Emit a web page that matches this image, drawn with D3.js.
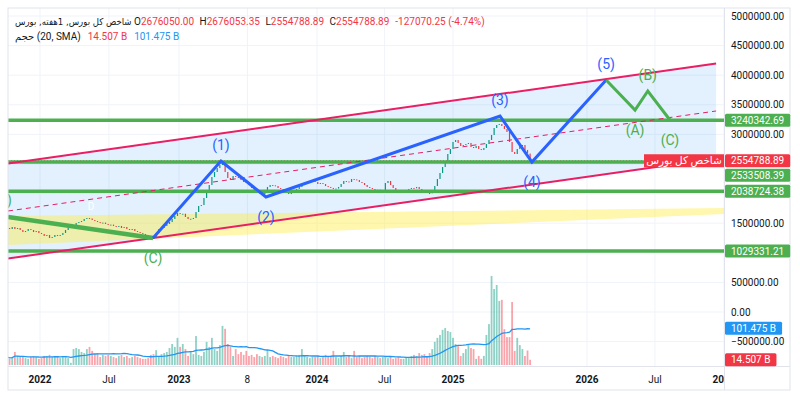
<!DOCTYPE html>
<html>
<head>
<meta charset="utf-8">
<script src="https://cdn.jsdelivr.net/npm/d3@7"></script>
<style>
  body { margin: 0; background: #fff; }
  svg { display: block; font-family: Roboto, "DejaVu Sans", sans-serif; }
</style>
</head>
<body>
<svg id="chart" width="800" height="397"></svg>
<script>
// Weekly bars: first week, closes (thousands of points), volume (billions)
const firstWeek = "2021-10-06";
const closeK = [
  1419,1402,1436,1402,1419,1385,1351,1368,1402,1385,
  1351,1368,1335,1318,1284,1301,1250,1267,1301,1284,
  1301,1335,1385,1419,1453,1470,1503,1520,1537,1571,
  1588,1580,1554,1537,1520,1503,1510,1487,1470,1476,
  1453,1436,1453,1419,1436,1402,1385,1402,1368,1351,
  1335,1318,1301,1284,1267,1262,1335,1402,1419,1453,
  1487,1520,1571,1622,1672,1655,1660,1605,1571,1575,
  1588,1689,1791,1807,1926,2061,2145,2280,2365,2432,
  2483,2534,2365,2264,2230,2297,2280,2264,2230,2196,
  2179,2145,2095,2044,2010,2015,1993,2044,2112,2145,
  2140,2128,2095,2078,2044,2010,1993,2010,2044,2078,
  2112,2145,2162,2179,2196,2213,2196,2162,2179,2162,
  2128,2112,2095,2078,2085,2112,2162,2213,2205,2196,
  2247,2240,2230,2196,2179,2145,2112,2095,2078,2061,
  2065,2044,2050,2179,2213,2145,2095,2044,2027,2010,
  2044,2061,2078,2095,2090,2112,2078,2061,2027,2010,
  2005,2044,2128,2247,2348,2449,2551,2669,2753,2872,
  2905,2855,2804,2821,2838,2855,2787,2770,2804,2753,
  2737,2770,2838,2905,2990,3108,3159,3176,3142,3091,
  3041,2872,2703,2669,2753,2804,2821,2737,2681.859,2554.789
];
const volumeB = [
  22,17,22,36,25,22,22,19,17,22,
  25,22,17,19,25,25,28,22,25,25,
  19,22,25,19,6,44,47,44,36,33,
  44,50,39,30,33,22,28,25,28,25,
  22,19,25,28,22,25,19,22,25,22,
  19,17,17,19,28,30,41,25,30,33,
  36,47,58,50,75,50,58,44,25,36,
  30,80,28,25,36,64,50,75,44,39,
  55,108,100,58,50,25,44,30,36,28,
  39,25,28,22,30,25,22,25,41,22,
  25,22,19,25,22,19,25,22,22,25,
  28,44,25,22,19,22,22,25,19,22,
  28,22,25,39,22,19,25,36,22,25,
  19,39,22,25,19,22,25,22,19,25,
  22,19,22,25,19,22,17,19,22,17,
  17,22,19,25,28,25,33,28,30,25,
  33,44,64,75,83,97,102,94,91,75,
  58,52,25,33,44,55,47,44,17,25,
  17,25,83,113,246,210,221,177,180,99,
  77,77,174,39,75,55,44,25,40,14.507
];
const lastBar = { open: 2676050.00, high: 2676053.35, low: 2554788.89, close: 2554788.89, change: -127070.25, pct: -4.74 };
const volumeNow = 14.507, volumeSma = 101.475;

const symbolText = "شاخص کل بورس, 1هفته, بورس";
const volumeText = "حجم (20, SMA)";
const priceTag = "شاخص کل بورس";

const levels = [3240342.69, 2533508.39, 2038724.38, 1029331.21];
const priceTicks = [5000000, 4500000, 4000000, 3500000, 3000000, 2500000, 2000000, 1500000, 1000000, 500000, 0, -500000];
const yearMarks = ["2022-01-01", "2023-01-01", "2024-01-01", "2025-01-01", "2026-01-01", "2027-01-01"];
const timeTicks = [
  ["2022-01-01", "2022", true], ["2022-07-01", "Jul", false], ["2023-01-01", "2023", true],
  ["2023-07-01", "8", false], ["2024-01-01", "2024", true], ["2024-07-01", "Jul", false],
  ["2025-01-01", "2025", true], ["2026-01-01", "2026", true], ["2026-07-01", "Jul", false],
  ["2027-01-01", "2027", true]
];

// drawings, [date, price]
const channelTop = [["2021-10-09", 2508500], ["2026-12-11", 4197700]];
const channelBottom = [["2021-10-09", 903700], ["2026-12-11", 2592900]];
const yellowZone = [["2021-10-09", 1621600], ["2027-01-01", 1756800], ["2027-01-01", 1655400], ["2021-10-09", 1131800]];
const waveC = [["2021-10-09", 1604700], ["2022-10-25", 1250000, "(C)"]];
const waveB = [["2021-09-25", 1891900, "(B)"]];
const impulse = [
  ["2022-10-25", 1250000, ""], ["2023-04-22", 2550700, "(1)"], ["2023-08-19", 1942600, "(2)"],
  ["2025-05-09", 3310800, "(3)"], ["2025-08-04", 2533800, "(4)"], ["2026-02-21", 3919000, "(5)"]
];
const correction = [
  ["2026-02-21", 3919000, ""], ["2026-05-09", 3412200, "(A)"],
  ["2026-06-12", 3733100, "(B)"], ["2026-08-10", 3243300, "(C)"]
];

const green = "#4caf50", blue = "#2962ff", pink = "#e91e63", red = "#f23645", teal = "#089981", ink = "#131722";
const L = 8, R = 724, T = 8, B = 366;

const parse = d3.utcParse("%Y-%m-%d");
const x = d3.scaleUtc().domain(yearMarks.map(parse)).range([40, 179, 317, 453, 587, 724]);
const y = d3.scaleLinear().domain([0, 5000000]).range([312, 16]);
const vy = d3.scaleLinear().domain([0, 250]).range([365, 274.5]);
const pt = d => [x(parse(d[0])), y(d[1])];
const fmt = d3.format(".2f");
const fmtB = v => `${d3.format(".3f")(v)} B`;
const line = d3.line();

const start = parse(firstWeek);
const bars = closeK.map((c, i) => ({
  date: d3.utcDay.offset(start, 7 * i),
  open: i ? closeK[i - 1] * 1000 : c * 1000,
  close: c * 1000,
  vol: volumeB[i]
}));
bars[bars.length - 1].open = lastBar.open;
bars.forEach((b, i) => b.sma = d3.mean(bars.slice(Math.max(0, i - 19), i + 1), d => d.vol));

const svg = d3.select("#chart");
svg.append("rect").attr("width", 800).attr("height", 397).attr("fill", "#fff");
const defs = svg.append("defs");
defs.append("clipPath").attr("id", "plot").append("rect")
  .attr("x", L).attr("y", T).attr("width", R - L).attr("height", B - T);
defs.append("clipPath").attr("id", "taxis").append("rect")
  .attr("x", L).attr("y", B).attr("width", R - L).attr("height", 24);

const g = svg.append("g").attr("clip-path", "url(#plot)");

// grid
g.selectAll("line.hg").data(priceTicks).join("line").attr("class", "hg")
  .attr("x1", L).attr("x2", R).attr("y1", d => y(d)).attr("y2", d => y(d))
  .attr("stroke", "#f0f3fa");
g.selectAll("line.vg").data(timeTicks).join("line").attr("class", "vg")
  .attr("x1", d => x(parse(d[0]))).attr("x2", d => x(parse(d[0])))
  .attr("y1", T).attr("y2", B).attr("stroke", "#f0f3fa");

// zones
const ch = [pt(channelTop[0]), pt(channelTop[1]), pt(channelBottom[1]), pt(channelBottom[0])];
g.append("path").attr("d", line(ch) + "Z").attr("fill", "rgba(33,150,243,0.13)");
g.append("path").attr("d", line(yellowZone.map(pt)) + "Z").attr("fill", "rgba(255,235,59,0.42)");

// volume
g.selectAll("rect.vol").data(bars).join("rect").attr("class", "vol")
  .attr("x", d => x(d.date) - 0.9).attr("width", 1.8)
  .attr("y", d => vy(d.vol)).attr("height", d => vy(0) - vy(d.vol))
  .attr("fill", d => d.close >= d.open ? "rgba(8,153,129,0.45)" : "rgba(242,54,69,0.45)");
g.append("path").datum(bars)
  .attr("d", d3.line().x(d => x(d.date)).y(d => vy(d.sma)))
  .attr("fill", "none").attr("stroke", "#2196f3").attr("stroke-width", 1.3);

// candles
g.selectAll("rect.candle").data(bars).join("rect").attr("class", "candle")
  .attr("x", d => x(d.date) - 0.6).attr("width", 1.2)
  .attr("y", d => y(Math.max(d.open, d.close)))
  .attr("height", d => Math.max(1, Math.abs(y(d.open) - y(d.close))))
  .attr("fill", d => d.close >= d.open ? teal : red);

// last price line
g.append("line").attr("x1", L).attr("x2", R).attr("y1", y(lastBar.close)).attr("y2", y(lastBar.close))
  .attr("stroke", red).attr("stroke-dasharray", "1,2");

// horizontal levels
g.selectAll("line.lvl").data(levels).join("line").attr("class", "lvl")
  .attr("x1", L).attr("x2", R).attr("y1", d => y(d)).attr("y2", d => y(d))
  .attr("stroke", green).attr("stroke-width", 3.5);

// channel lines
g.append("path").attr("d", line(channelTop.map(pt))).attr("stroke", pink).attr("stroke-width", 2).attr("fill", "none");
g.append("path").attr("d", line(channelBottom.map(pt))).attr("stroke", pink).attr("stroke-width", 2).attr("fill", "none");
const mid = channelTop.map((d, i) => [d[0], (d[1] + channelBottom[i][1]) / 2]);
g.append("path").attr("d", line(mid.map(pt))).attr("stroke", pink).attr("stroke-width", 1)
  .attr("stroke-dasharray", "5,4").attr("fill", "none");

// waves
g.append("path").attr("d", line(waveC.map(pt))).attr("stroke", green).attr("stroke-width", 4.5).attr("fill", "none");
g.append("path").attr("d", line(impulse.map(pt))).attr("stroke", blue).attr("stroke-width", 3).attr("fill", "none");
g.append("path").attr("d", line(correction.map(pt))).attr("stroke", green).attr("stroke-width", 3).attr("fill", "none");

function waveLabels(pts, color) {
  pts.forEach((d, i) => {
    if (!d[2]) return;
    const nb = [pts[i - 1], pts[i + 1]].filter(Boolean);
    const peak = nb.every(n => d[1] > n[1]);
    const [px, py] = pt(d);
    g.append("text").attr("x", px).attr("y", peak ? py - 16 : py + 20)
      .attr("text-anchor", "middle").attr("dominant-baseline", "central")
      .attr("font-size", 14).attr("fill", color).text(d[2]);
  });
}
waveLabels(impulse, blue);
waveLabels(correction, green);
waveLabels(waveC, green);
waveB.forEach(d => {
  const [px, py] = pt(d);
  g.append("text").attr("x", px).attr("y", py).attr("text-anchor", "middle")
    .attr("dominant-baseline", "central").attr("font-size", 14).attr("fill", green).text(d[2]);
});
g.append("text").attr("x", x(parse("2022-05-15"))).attr("y", y(1790000)).attr("text-anchor", "middle")
  .attr("dominant-baseline", "central").attr("font-size", 10).attr("fill", "#fff").text("D");

// price tag on last price
g.append("rect").attr("x", 644).attr("y", y(lastBar.close) - 6.5).attr("width", R - 644).attr("height", 13).attr("fill", red);
g.append("text").attr("x", 684).attr("y", y(lastBar.close)).attr("text-anchor", "middle")
  .attr("dominant-baseline", "central").attr("font-size", 10.5).attr("fill", "#fff").text(priceTag);

// header legend
const head = svg.append("g").attr("font-size", 10);
head.append("text").attr("x", 15).attr("y", 21)
  .attr("font-family", "'DejaVu Sans Condensed', 'DejaVu Sans', sans-serif").attr("font-size", 9.5)
  .attr("dominant-baseline", "central").attr("fill", ink).text(symbolText);
const ohlc = head.append("text").attr("x", 134).attr("y", 21).attr("dominant-baseline", "central");
[["O", lastBar.open], ["H", lastBar.high], ["L", lastBar.low], ["C", lastBar.close]].forEach(([k, v], i) => {
  ohlc.append("tspan").attr("dx", i ? 5.5 : 0).attr("fill", ink).text(k);
  ohlc.append("tspan").attr("fill", red).text(fmt(v));
});
ohlc.append("tspan").attr("dx", 6).attr("fill", red)
  .text(`${fmt(lastBar.change)} (${fmt(lastBar.pct)}%)`.replace(/\u2212/g, "-"));
const vt = head.append("text").attr("x", 15).attr("y", 36).attr("dominant-baseline", "central");
vt.append("tspan").attr("fill", ink).text(volumeText);
vt.append("tspan").attr("dx", 7).attr("fill", red).text(fmtB(volumeNow));
vt.append("tspan").attr("dx", 7).attr("fill", "#2196f3").text(fmtB(volumeSma));

// frame and axes
svg.append("rect").attr("x", L).attr("y", T).attr("width", 790 - L).attr("height", 390 - T)
  .attr("fill", "none").attr("stroke", "#e0e3eb");
svg.append("line").attr("x1", R + 0.5).attr("x2", R + 0.5).attr("y1", T).attr("y2", 390).attr("stroke", "#e0e3eb");
svg.append("line").attr("x1", L).attr("x2", 790).attr("y1", B + 0.5).attr("y2", B + 0.5).attr("stroke", "#e0e3eb");

// time axis
svg.append("g").attr("clip-path", "url(#taxis)")
  .selectAll("text").data(timeTicks).join("text")
  .attr("x", d => x(parse(d[0]))).attr("y", 379).attr("text-anchor", "middle")
  .attr("dominant-baseline", "central").attr("font-size", 10)
  .attr("font-weight", d => d[2] ? 700 : 400).attr("fill", ink).text(d => d[1]);

// axis labels (boxes)
const tags = [
  ...levels.map(v => ({ cy: y(v), text: fmt(v), color: green })),
  { cy: y(lastBar.close), text: fmt(lastBar.close), color: red },
  { cy: vy(volumeSma), text: fmtB(volumeSma), color: "#2196f3" },
  { cy: vy(volumeNow), text: fmtB(volumeNow), color: red }
].sort((a, b) => a.cy - b.cy);
tags.forEach((t, i) => { if (i && t.cy < tags[i - 1].cy + 14.5) t.cy = tags[i - 1].cy + 14.5; });

const ax = svg.append("g").attr("font-size", 10);
ax.selectAll("text.tick").data(priceTicks.filter(v => tags.every(t => Math.abs(t.cy - y(v)) > 12)))
  .join("text").attr("class", "tick")
  .attr("x", 731).attr("y", d => y(d)).attr("dominant-baseline", "central").attr("fill", ink)
  .text(d => fmt(d));
tags.forEach(t => {
  const tg = ax.append("g");
  const r = tg.append("rect").attr("x", R + 1).attr("y", t.cy - 6.5).attr("height", 13).attr("rx", 1.5).attr("fill", t.color);
  const tx = tg.append("text").attr("x", 731).attr("y", t.cy).attr("dominant-baseline", "central").attr("fill", "#fff").text(t.text);
  r.attr("width", tx.node().getComputedTextLength() + 12);
});
</script>
</body>
</html>
